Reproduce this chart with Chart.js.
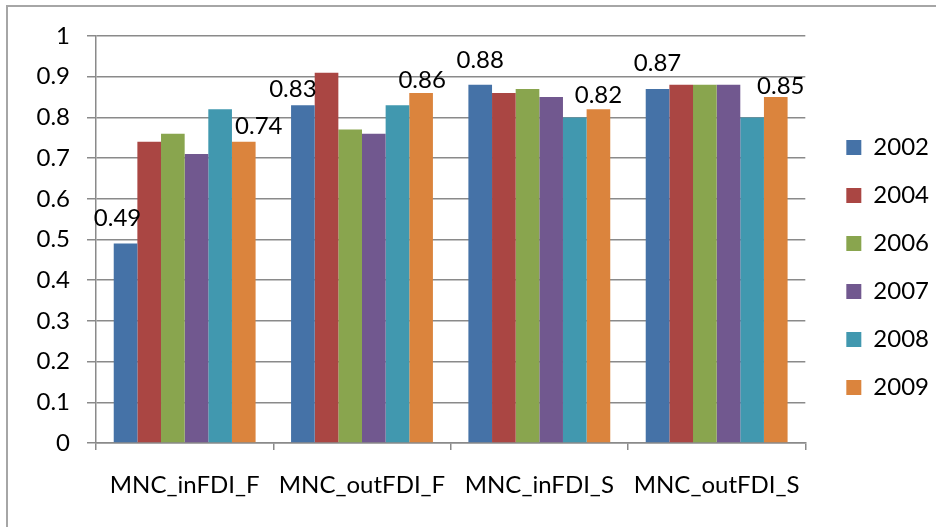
<!DOCTYPE html>
<html>
<head>
<meta charset="utf-8">
<script src="https://cdn.jsdelivr.net/npm/chart.js@4/dist/chart.umd.min.js"></script>
<style>
  html, body { margin: 0; padding: 0; background: #ffffff; }
  #wrap { position: relative; width: 936px; height: 527px; }
</style>
</head>
<body>
<div id="wrap"><canvas id="c" width="936" height="527"></canvas></div>
<script>
// Categories and series
const categories = ['MNC_inFDI_F', 'MNC_outFDI_F', 'MNC_inFDI_S', 'MNC_outFDI_S'];
const seriesNames = ['2002', '2004', '2006', '2007', '2008', '2009'];
const values2002 = [0.49, 0.83, 0.88, 0.87];
const values2004 = [0.74, 0.91, 0.86, 0.88];
const values2006 = [0.76, 0.77, 0.87, 0.88];
const values2007 = [0.71, 0.76, 0.85, 0.88];
const values2008 = [0.82, 0.83, 0.80, 0.80];
const values2009 = [0.74, 0.86, 0.82, 0.85];
const yTickLabels = ['0', '0.1', '0.2', '0.3', '0.4', '0.5', '0.6', '0.7', '0.8', '0.9', '1'];

const seriesValues = [values2002, values2004, values2006, values2007, values2008, values2009];
const seriesColors = ['#4572A7', '#AA4643', '#89A54E', '#71588F', '#4198AF', '#DB843D'];
const labelledSeries = [0, 5];

const FONT = 'Lato, "Noto Sans", sans-serif';
const FONT_SIZE = 24;
const GRID = '#8a8a8a';

// Value labels above the first and last series; a few are nudged sideways so they clear neighbouring bars
const labelNudge = {
  '0-0': [-8, 25], '5-0': [15, 16],
  '0-1': [-10, 16], '5-1': [1, 13],
  '0-2': [0, 25], '5-2': [0, 14],
  '0-3': [0, 26], '5-3': [5, 11]
};
const valueLabels = {
  id: 'valueLabels',
  afterDatasetsDraw(chart) {
    const ctx = chart.ctx;
    ctx.save();
    ctx.font = FONT_SIZE + 'px ' + FONT;
    ctx.fillStyle = '#000000';
    ctx.textAlign = 'center';
    ctx.textBaseline = 'middle';
    labelledSeries.forEach(di => {
      const meta = chart.getDatasetMeta(di);
      meta.data.forEach((bar, i) => {
        const v = chart.data.datasets[di].data[i];
        const n = labelNudge[di + '-' + i] || [0, 14];
        ctx.fillText(String(v), bar.x + n[0], bar.y - n[1]);
      });
    });
    ctx.restore();
  }
};

// Frame lines along the top and left edges of the chart
const frame = {
  id: 'frame',
  beforeDraw(chart) {
    const ctx = chart.ctx;
    ctx.save();
    ctx.strokeStyle = '#a6a6a6';
    ctx.lineWidth = 2;
    ctx.beginPath();
    ctx.moveTo(7, chart.height);
    ctx.lineTo(7, 6);
    ctx.lineTo(chart.width, 6);
    ctx.stroke();
    ctx.restore();
  }
};

// Move the legend a little further from the plot and up toward the middle
const legendShift = {
  id: 'legendShift',
  afterLayout(chart) {
    const lg = chart.legend;
    if (!lg) return;
    lg.left += 17; lg.right += 17;
    lg.top -= 14; lg.bottom -= 14;
  }
};

new Chart(document.getElementById('c'), {
  type: 'bar',
  data: {
    labels: categories,
    datasets: seriesNames.map((name, i) => ({
      label: name,
      data: seriesValues[i],
      backgroundColor: seriesColors[i],
      borderWidth: 0,
      barPercentage: 1.0,
      categoryPercentage: 0.8
    }))
  },
  options: {
    responsive: false,
    animation: false,
    devicePixelRatio: 1,
    layout: { padding: { top: 36, right: 14, bottom: 0, left: 0 } },
    plugins: {
      legend: {
        position: 'right',
        labels: {
          font: { family: FONT, size: FONT_SIZE },
          color: '#000000',
          boxWidth: 15,
          boxHeight: 15,
          padding: 24
        }
      },
      tooltip: { enabled: false }
    },
    scales: {
      x: {
        grid: {
          offset: true,
          drawOnChartArea: false,
          drawTicks: true,
          tickLength: 7,
          color: GRID,
          lineWidth: 1.5
        },
        border: { display: true, color: GRID, width: 1.5 },
        ticks: {
          font: { family: FONT, size: FONT_SIZE },
          color: '#000000',
          padding: 21,
          maxRotation: 0
        },
        afterFit(scale) { scale.height = 84; }
      },
      y: {
        min: 0,
        max: 1,
        ticks: {
          stepSize: 0.1,
          font: { family: FONT, size: FONT_SIZE },
          color: '#000000',
          padding: 17,
          callback: (v, i) => yTickLabels[i]
        },
        grid: {
          color: GRID,
          lineWidth: 1.5,
          tickLength: 9
        },
        border: { display: true, color: GRID, width: 1.5 },
        afterFit(scale) { scale.width = 96; }
      }
    }
  },
  plugins: [frame, valueLabels, legendShift]
});
</script>
</body>
</html>
